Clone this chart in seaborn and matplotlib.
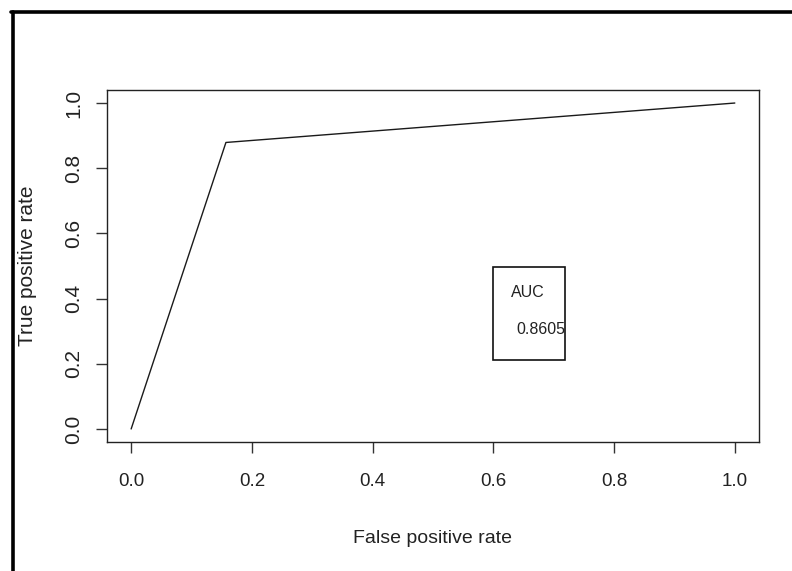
import pandas as pd
import matplotlib.pyplot as plt
import seaborn as sns
from matplotlib.patches import Rectangle
from matplotlib.lines import Line2D

# ROC curve points
fpr = [0.0, 0.157, 1.0]
tpr = [0.0, 0.879, 1.0]
auc_value = 0.8605
ticks = [0.0, 0.2, 0.4, 0.6, 0.8, 1.0]

sns.set_style("ticks")
plt.rcParams['font.family'] = ['Liberation Sans', 'DejaVu Sans']

df = pd.DataFrame({'fpr': fpr, 'tpr': tpr})

fig = plt.figure(figsize=(7.92, 5.71), dpi=100)
ax = fig.add_axes([0.1351, 0.2259, 0.8232, 0.6165])

sns.lineplot(data=df, x='fpr', y='tpr', sort=False, estimator=None,
             color='#1a1a1a', linewidth=1.0, ax=ax)

ax.set_xlim(-0.04, 1.04)
ax.set_ylim(-0.04, 1.04)
ax.set_xticks(ticks)
ax.set_yticks(ticks)
ax.set_xticklabels([f'{t:.1f}' for t in ticks], fontsize=13.5, color='#222222')
ax.set_yticklabels([f'{t:.1f}' for t in ticks], fontsize=15, color='#222222',
                   rotation=90, va='center')
ax.tick_params(axis='both', direction='out', length=8, width=1.0, color='#333333')
ax.tick_params(axis='x', pad=14)
ax.tick_params(axis='y', pad=9)
for s in ax.spines.values():
    s.set_visible(True)
    s.set_linewidth(1.0)
    s.set_color('#222222')

ax.set_xlabel('False positive rate', fontsize=14, color='#222222', labelpad=29)
ax.set_ylabel('True positive rate', fontsize=15, color='#222222', labelpad=20)

# AUC box, as in R's legend()
ax.add_patch(Rectangle((0.599, 0.212), 0.1205, 0.286, fill=False,
                       edgecolor='#111111', linewidth=1.2, zorder=3))
ax.text(0.630, 0.420, 'AUC', fontsize=11.5, color='#222222', va='center', ha='left')
ax.text(0.638, 0.305, f'{auc_value:.4f}', fontsize=11.5, color='#222222',
        va='center', ha='left')

# thick frame around the figure (top and left only visible)
fig.add_artist(Line2D([0.0158, 0.0158], [0.0, 0.979], color='black',
                      linewidth=2.6, transform=fig.transFigure))
fig.add_artist(Line2D([0.0140, 1.0], [0.979, 0.979], color='black',
                      linewidth=2.6, transform=fig.transFigure))

fig.savefig('out.png', dpi=100)
